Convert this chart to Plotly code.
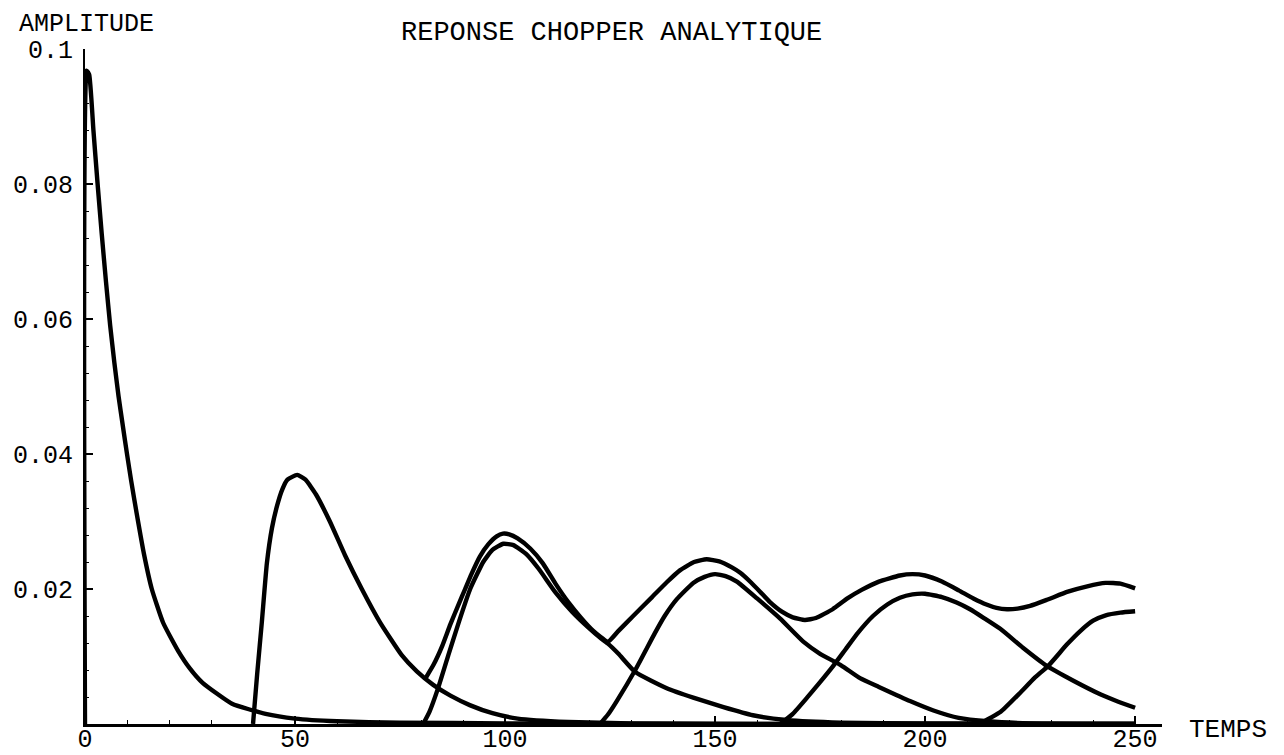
import plotly.graph_objects as go

# ---- data ----
t1 = [0, 0.4, 1, 2, 3, 4, 5, 6, 7, 8, 9, 10, 11, 12.3, 14, 15.9, 18.6, 22.2, 25, 28, 35, 43, 50, 60, 75, 100, 150, 250]
p1 = [0, 0.0968, 0.0962, 0.088, 0.080, 0.0725, 0.0655, 0.059, 0.0535, 0.0485, 0.0442, 0.0400, 0.0360, 0.0312, 0.0253, 0.0200, 0.0150, 0.0108, 0.0082, 0.0061, 0.0030, 0.0015, 0.0008, 0.0004, 0.0002, 0.0001, 0.0, 0.0]

t2 = [40, 41, 42.1, 43.3, 44.5, 45.8, 47, 48.2, 50.5, 52.5, 55, 58.3, 61.9, 65.9, 70.2, 75.4, 79, 82.9, 87, 91.6, 97, 103, 115, 130, 160, 250]
p2 = [0, 0.0075, 0.0151, 0.0238, 0.0290, 0.0325, 0.0348, 0.0362, 0.0369, 0.0362, 0.0340, 0.0300, 0.0250, 0.0200, 0.0151, 0.0102, 0.0078, 0.0058, 0.0042, 0.0028, 0.0016, 0.0008, 0.0003, 0.0001, 0.0, 0.0]

t3 = [80.5, 82, 84, 86.5, 89, 91.7, 94.8, 97, 99.6, 102, 105, 108, 112, 116, 120, 122.6, 124.5, 127, 131, 138.5, 144.8, 152, 159, 167, 180, 200, 250]
p3 = [0, 0.0018, 0.0052, 0.0102, 0.0151, 0.0200, 0.0240, 0.0258, 0.0267, 0.0265, 0.0252, 0.0230, 0.0195, 0.0166, 0.0142, 0.0128, 0.0119, 0.0104, 0.0077, 0.0053, 0.0039, 0.0025, 0.0013, 0.0006, 0.0002, 0.0001, 0.0]

t4 = [122.6, 124.5, 126.6, 131, 135.7, 138, 140.9, 144.8, 147.5, 150, 152.5, 155.2, 160, 165.5, 171, 175, 180, 184.5, 189, 196.4, 202, 208, 215, 225, 250]
p4 = [0, 0.0014, 0.0034, 0.0080, 0.0135, 0.0160, 0.0185, 0.0209, 0.0218, 0.0222, 0.0219, 0.0211, 0.0186, 0.0156, 0.0122, 0.0104, 0.0087, 0.0068, 0.0055, 0.0034, 0.0020, 0.0009, 0.0004, 0.0001, 0.0]

t5 = [165.5, 168.5, 171.9, 175, 178, 181, 184, 187.6, 191, 194, 197, 200, 204, 207.5, 210.7, 214, 217.9, 223.3, 229, 235.3, 241.7, 246, 250]
p5 = [0, 0.0015, 0.0039, 0.0062, 0.0085, 0.0110, 0.0135, 0.0160, 0.0177, 0.0187, 0.0192, 0.0193, 0.0188, 0.0180, 0.0170, 0.0157, 0.0141, 0.0113, 0.0086, 0.0064, 0.0044, 0.0033, 0.0024]

t6 = [211.5, 214, 218, 222.6, 226, 229.3, 233.8, 237, 240, 243, 246.5, 250]
p6 = [0, 0.0004, 0.0018, 0.0046, 0.0068, 0.0086, 0.0118, 0.0138, 0.0153, 0.0161, 0.0165, 0.0167]

t_sum = [81, 83, 85, 87, 89, 90.5, 92, 94, 96, 98, 99.5, 101, 103, 106, 109, 112, 115, 118, 121, 124.5,
         127, 130.5, 135, 138.5, 141.7, 145, 148, 151, 154, 156, 158.5, 160.7, 163, 166, 168.5, 171.4,
         174, 178, 181.5, 185, 189, 194, 197, 200, 204, 208, 211.5, 214.6, 217, 219.5, 222, 225, 229,
         234, 238.6, 243, 246.5, 250]
p_sum = [0.0067, 0.0088, 0.0115, 0.0148, 0.0178, 0.0200, 0.0222, 0.0248, 0.0266, 0.0278, 0.0282, 0.0281,
         0.0275, 0.0260, 0.0238, 0.0208, 0.0181, 0.0158, 0.0138, 0.0122,
         0.0138, 0.0160, 0.0188, 0.0210, 0.0228, 0.0240, 0.0244, 0.0241, 0.0232, 0.0224, 0.0210,
         0.0196, 0.0181, 0.0166, 0.0158, 0.0154,
         0.0157, 0.0170, 0.0186, 0.0199, 0.0211, 0.0220, 0.0222, 0.0220, 0.0211, 0.0198, 0.0186,
         0.0177, 0.0172, 0.0170, 0.0171, 0.0175, 0.0184,
         0.0196, 0.0204, 0.0209, 0.0208, 0.0201]

x_ticks = [0, 50, 100, 150, 200, 250]
x_ticktext = ["0", "50", "100", "150", "200", "250"]
y_ticks = [0.02, 0.04, 0.06, 0.08, 0.1]
y_ticktext = ["0.02", "0.04", "0.06", "0.08", "0.1"]

title_text = "REPONSE CHOPPER ANALYTIQUE"
x_label = "TEMPS"
y_label = "AMPLITUDE"

FONT = "Liberation Mono"

fig = go.Figure()
for tx, py in [(t1, p1), (t2, p2), (t3, p3), (t4, p4), (t5, p5), (t6, p6), (t_sum, p_sum)]:
    fig.add_trace(go.Scatter(x=tx, y=py, mode="lines",
                             line=dict(color="black", width=4.4, shape="spline", smoothing=0.45),
                             showlegend=False, hoverinfo="skip"))

# the page body has an 8 px margin, so margins are set 8 px smaller on the left/top
fig.update_layout(
    width=1284, height=755,
    margin=dict(l=77, r=130, t=41, b=39, autoexpand=False),
    paper_bgcolor="white", plot_bgcolor="white",
    font=dict(family=FONT, color="black", size=25),
    showlegend=False,
)
fig.update_xaxes(
    range=[0, 256.4], showgrid=False, zeroline=False, automargin=False,
    showline=True, linecolor="black", linewidth=3,
    ticks="inside", ticklen=8, tickwidth=1.5, tickcolor="black",
    tickvals=x_ticks, ticktext=x_ticktext, ticklabelstandoff=-10,
    tickfont=dict(family=FONT, size=25, color="black"),
    minor=dict(ticks="inside", dtick=10, tick0=0, ticklen=4, tickwidth=1, tickcolor="black", showgrid=False),
)
fig.update_yaxes(
    range=[0, 0.1], showgrid=False, zeroline=False, automargin=False,
    showline=True, linecolor="black", linewidth=2,
    ticks="inside", ticklen=8, tickwidth=1.5, tickcolor="black",
    tickvals=y_ticks, ticktext=y_ticktext, ticklabelstandoff=5,
    tickfont=dict(family=FONT, size=25, color="black"),
    minor=dict(ticks="inside", dtick=0.004, tick0=0, ticklen=4, tickwidth=1, tickcolor="black", showgrid=False),
)

fig.add_annotation(text=title_text, xref="paper", yref="paper", x=0.4893, y=1.0237,
                   showarrow=False, xanchor="center", yanchor="middle",
                   font=dict(family=FONT, size=27, color="black"))
fig.add_annotation(text=y_label, xref="paper", yref="paper", x=0.0014, y=1.0370,
                   showarrow=False, xanchor="center", yanchor="middle",
                   font=dict(family=FONT, size=25, color="black"))
fig.add_annotation(text=x_label, xref="paper", yref="paper", x=1.0613, y=-0.0089,
                   showarrow=False, xanchor="center", yanchor="middle",
                   font=dict(family=FONT, size=26, color="black"))

fig.write_html("out.html")
